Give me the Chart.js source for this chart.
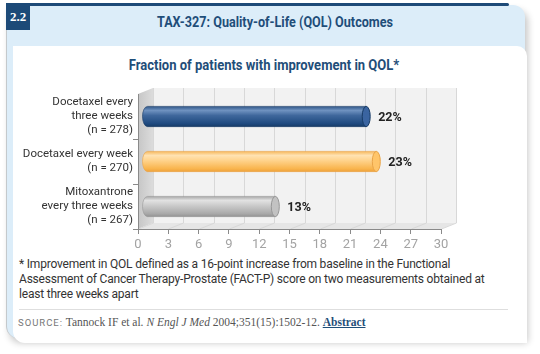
<!DOCTYPE html>
<html>
<head>
<meta charset="utf-8">
<script src="https://cdn.jsdelivr.net/npm/chart.js@4.4.1/dist/chart.umd.min.js"></script>
<style>
html, body { margin: 0; padding: 0; background: #fff; }
body { width: 540px; height: 354px; position: relative; overflow: hidden; font-family: Roboto, "Liberation Sans", sans-serif; }
.card { position: absolute; left: 6px; top: 5px; width: 519px; height: 333px; box-sizing: border-box;
        background: #dcedf9; border-left: 1px solid #c4c9cc; border-radius: 0 12px 3px 12px;
        box-shadow: 3px 5px 7px rgba(0,0,0,0.22); }
.panel { position: absolute; left: 6px; top: 41px; width: 514px; height: 297px; background: #fff;
         border-radius: 0 10px 0 12px; }
.topbar { position: absolute; left: 6px; top: 3px; width: 503px; height: 3px; background: #1d4a78; border-radius: 0 2px 2px 0; }
.num { position: absolute; left: 6px; top: 4px; width: 24px; height: 26px; background: #1d4a78; color: #fff;
       font: bold 13px "Liberation Serif", "DejaVu Serif", serif; line-height: 26px; text-align: center; }
.head { position: absolute; left: 30px; width: 490px; top: 14px; text-align: center; color: #1f4e79;
        font: bold 14px Roboto, "Liberation Sans", sans-serif; transform: scaleX(0.9); }
.ctitle { position: absolute; left: 8px; width: 512px; top: 57px; text-align: center; color: #1f4e79;
          font: bold 14px Roboto, "Liberation Sans", sans-serif; transform: scaleX(0.93); }
.note { position: absolute; left: 19px; top: 257px; color: #333; font-size: 12px; letter-spacing: -0.2px; line-height: 15px; white-space: nowrap; }
.rule { position: absolute; left: 19px; top: 309px; width: 489px; height: 1px; background: #dedede; }
.src { position: absolute; left: 18px; top: 316px; color: #555; font: 11.5px "Liberation Serif", "DejaVu Serif", serif; white-space: nowrap; }
.src .lab { font: 9.5px Roboto, "Liberation Sans", sans-serif; letter-spacing: 1px; color: #777; }
.src a { color: #1f4e79; font-weight: bold; text-decoration: underline; }
canvas { position: absolute; left: 0; top: 0; }
</style>
</head>
<body>
<div class="card"><div class="panel"></div></div>
<div class="topbar"></div>
<div class="num">2.2</div>
<div class="head">TAX-327: Quality-of-Life (QOL) Outcomes</div>
<div class="ctitle">Fraction of patients with improvement in QOL*</div>
<div class="note">* Improvement in QOL defined as a 16-point increase from baseline in the Functional<br>Assessment of Cancer Therapy-Prostate (FACT-P) score on two measurements obtained at<br>least three weeks apart</div>
<div class="rule"></div>
<div class="src"><span class="lab">SOURCE:</span> Tannock IF et al. <i>N Engl J Med</i> 2004;351(15):1502-12. <a>Abstract</a></div>
<canvas id="qolChart" width="540" height="354"></canvas>
<script>
// data
const categories = [
    ['Docetaxel every', 'three weeks', '(n = 278)'],
    ['Docetaxel every week', '(n = 270)'],
    ['Mitoxantrone', 'every three weeks', '(n = 267)']
];
const improvement = [22, 23, 13];
const xMin = 0;
const xMax = 30;
const xStep = 3;

// cylinder looks, one per bar
const barStyles = [
    { body: [[0, '#2f5788'], [0.2, '#6f92c0'], [0.45, '#3f679c'], [0.85, '#1f4a80'], [1, '#173b66']], cap: '#3a64a0', edge: '#173b66' },
    { body: [[0, '#f6b85c'], [0.2, '#ffe2b2'], [0.45, '#ffd38c'], [0.85, '#f9b54e'], [1, '#eea23c']], cap: '#ffc56a', edge: '#e9a448' },
    { body: [[0, '#a8a8a8'], [0.2, '#e2e2e2'], [0.45, '#cbcbcb'], [0.85, '#a9a9a9'], [1, '#939393']], cap: '#c2c2c2', edge: '#979797' }
];

const DX = 15, DY = 6;

// back wall, side wall, floor and grid
const frame3d = {
    id: 'frame3d',
    beforeDraw(chart) {
        const { ctx, chartArea: a, scales: { x } } = chart;
        ctx.save();
        ctx.fillStyle = '#f2f2f2';
        ctx.fillRect(a.left + DX, a.top - DY, a.right - a.left, a.bottom - a.top);

        const g = ctx.createLinearGradient(a.left, 0, a.left + DX, 0);
        g.addColorStop(0, '#c6c6c6');
        g.addColorStop(1, '#dcdcdc');
        ctx.fillStyle = g;
        ctx.beginPath();
        ctx.moveTo(a.left, a.top);
        ctx.lineTo(a.left + DX, a.top - DY);
        ctx.lineTo(a.left + DX, a.bottom - DY);
        ctx.lineTo(a.left, a.bottom);
        ctx.closePath();
        ctx.fill();

        ctx.fillStyle = '#e6e6e6';
        ctx.beginPath();
        ctx.moveTo(a.left, a.bottom);
        ctx.lineTo(a.right, a.bottom);
        ctx.lineTo(a.right + DX, a.bottom - DY);
        ctx.lineTo(a.left + DX, a.bottom - DY);
        ctx.closePath();
        ctx.fill();

        ctx.strokeStyle = '#d8d8d8';
        ctx.lineWidth = 1;
        x.ticks.forEach(t => {
            const px = Math.round(x.getPixelForValue(t.value)) + 0.5;
            ctx.beginPath();
            ctx.moveTo(px + DX, a.top - DY);
            ctx.lineTo(px + DX, a.bottom - DY);
            ctx.moveTo(px, a.bottom);
            ctx.lineTo(px + DX, a.bottom - DY);
            ctx.stroke();
        });
        ctx.restore();
    }
};

function drawCylinder(ctx, x0, x1, y, h, s) {
    const top = y - h / 2, bot = y + h / 2, r = h / 2, rl = 5, rr = 4;
    const g = ctx.createLinearGradient(0, top, 0, bot);
    s.body.forEach(([p, c]) => g.addColorStop(p, c));
    ctx.fillStyle = g;
    ctx.beginPath();
    ctx.moveTo(x1, top);
    ctx.lineTo(x0 + rl, top);
    ctx.ellipse(x0 + rl, y, rl, r, 0, -Math.PI / 2, Math.PI / 2, true);
    ctx.lineTo(x1, bot);
    ctx.closePath();
    ctx.fill();
    ctx.strokeStyle = s.edge;
    ctx.globalAlpha = 0.6;
    ctx.lineWidth = 1;
    ctx.stroke();
    ctx.globalAlpha = 1;
    ctx.beginPath();
    ctx.ellipse(x1, y, rr, r, 0, 0, Math.PI * 2);
    ctx.fillStyle = s.cap;
    ctx.fill();
    ctx.strokeStyle = s.edge;
    ctx.stroke();
}

// cylinders and value labels, placed from the bar elements
const cylinders = {
    id: 'cylinders',
    afterDatasetsDraw(chart) {
        const { ctx } = chart;
        const meta = chart.getDatasetMeta(0);
        ctx.save();
        meta.data.forEach((el, i) => {
            const x0 = el.base + 4;
            const x1 = el.x + 6;
            drawCylinder(ctx, x0, x1, el.y, el.height, barStyles[i]);
            ctx.fillStyle = '#222';
            ctx.font = 'bold 12.5px Roboto, "Liberation Sans", sans-serif';
            ctx.textBaseline = 'middle';
            ctx.fillText(improvement[i] + '%', x1 + 12, el.y + 1);
        });
        ctx.restore();
    }
};

new Chart(document.getElementById('qolChart'), {
    type: 'bar',
    data: {
        labels: categories,
        datasets: [{
            data: improvement,
            backgroundColor: 'rgba(0,0,0,0)',
            barPercentage: 0.45,
            categoryPercentage: 1
        }]
    },
    options: {
        indexAxis: 'y',
        responsive: false,
        animation: false,
        events: [],
        layout: { padding: { left: 0, right: 99, top: 94, bottom: 100 } },
        plugins: {
            legend: { display: false },
            tooltip: { enabled: false }
        },
        scales: {
            y: {
                afterFit: s => { s.width = 138; },
                border: { display: true, color: '#8a8a8a' },
                grid: {
                    drawOnChartArea: false,
                    tickLength: 5,
                    color: c => c.index === 0 ? 'rgba(0,0,0,0)' : '#8a8a8a'
                },
                ticks: {
                    autoSkip: false,
                    padding: 0,
                    color: '#333',
                    font: { family: 'Roboto, "Liberation Sans", sans-serif', size: 11.5, lineHeight: 1.22 }
                }
            },
            x: {
                min: xMin,
                max: xMax,
                afterFit: s => { s.height = 25; },
                border: { display: true, color: '#8a8a8a' },
                grid: { drawOnChartArea: false, tickLength: 5, color: '#8a8a8a' },
                ticks: {
                    stepSize: xStep,
                    padding: 3,
                    color: '#a3a3a3',
                    font: { family: 'Roboto, "Liberation Sans", sans-serif', size: 13 }
                }
            }
        }
    },
    plugins: [frame3d, cylinders]
});
</script>
</body>
</html>
